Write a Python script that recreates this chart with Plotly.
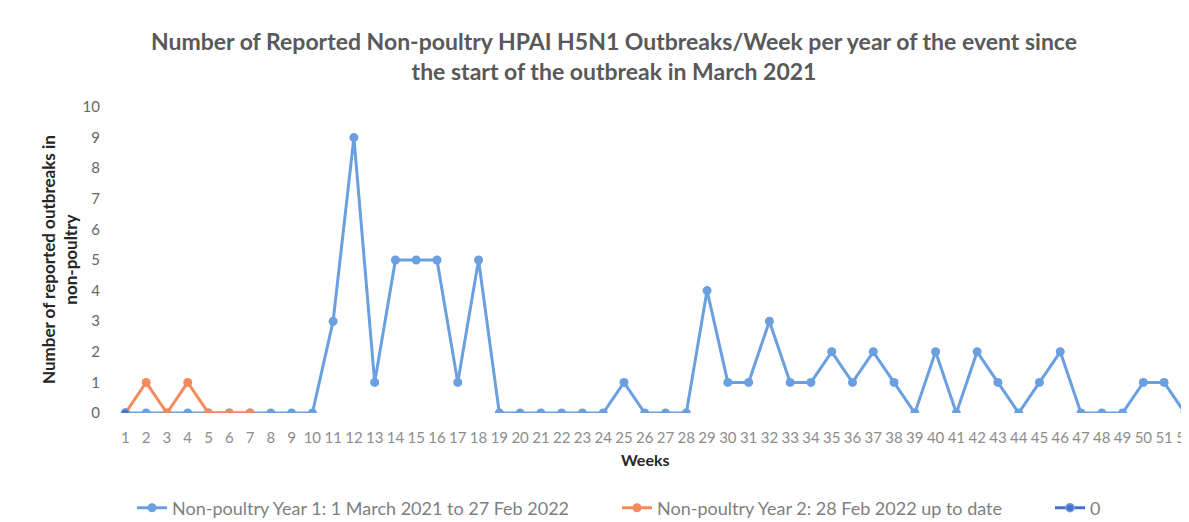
import plotly.graph_objects as go

weeks = list(range(1, 53))
year1 = [0, 0, 0, 0, 0, 0, 0, 0, 0, 0,
         3, 9, 1, 5, 5, 5, 1, 5, 0, 0,
         0, 0, 0, 0, 1, 0, 0, 0, 4, 1,
         1, 3, 1, 1, 2, 1, 2, 1, 0, 2,
         0, 2, 1, 0, 1, 2, 0, 0, 0, 1,
         1, 0]
weeks_y2 = [1, 2, 3, 4, 5, 6, 7]
year2 = [0, 1, 0, 1, 0, 0, 0]
weeks_zero = [1]
zero_series = [0]

name1 = "Non-poultry Year 1: 1 March 2021 to 27 Feb 2022"
name2 = "Non-poultry Year 2: 28 Feb 2022 up to date"
name3 = "0"

blue = "#6A9FE0"
orange = "#F58A5F"
dark = "#4A70C8"
font = "Lato, 'Open Sans', sans-serif"

W, H = 1189, 522
ml, mt, mb = 107, 99, 117
mr = 9
pw = W - ml - mr
ph = H - mt - mb

def px_x(x):
    return (x - ml) / pw

def px_y(y):
    return (H - mb - y) / ph

fig = go.Figure()
fig.add_trace(go.Scatter(x=weeks, y=year1, mode="lines+markers", name=name1, legend="legend",
                         line=dict(color=blue, width=3), marker=dict(color=blue, size=9)))
fig.add_trace(go.Scatter(x=weeks_y2, y=year2, mode="lines+markers", name=name2, legend="legend2",
                         line=dict(color=orange, width=3), marker=dict(color=orange, size=9)))
fig.add_trace(go.Scatter(x=weeks_zero, y=zero_series, mode="lines+markers", name=name3, legend="legend3",
                         line=dict(color=dark, width=3), marker=dict(color=dark, size=8,
                                                                     line=dict(color=blue, width=1.5))))

leg_common = dict(orientation="h", xanchor="left", yanchor="middle",
                  font=dict(family=font, size=18, color="#7F7F7F"), bgcolor="rgba(0,0,0,0)")

fig.update_layout(
    width=W, height=H,
    paper_bgcolor="white", plot_bgcolor="white",
    margin=dict(l=ml, r=mr, t=mt, b=mb, autoexpand=False),
    font=dict(family=font, color="#7F7F7F", size=15),
    title=dict(text="<b>Number of Reported Non-poultry HPAI H5N1 Outbreaks/Week per year of the event since<br>the start of the outbreak in March 2021</b>",
               x=606 / W, xanchor="center", y=1 - 42 / H, yanchor="middle",
               font=dict(family=font, size=23, color="#595959")),
    xaxis=dict(range=[0.5, 52.15], tickmode="array", tickvals=weeks, ticktext=[str(w) for w in weeks],
               showgrid=False, zeroline=False, showline=False, ticks="", tickangle=0,
               tickfont=dict(size=15, color="#8C8C8C"), ticklabelstandoff=14, automargin=False),
    yaxis=dict(range=[0, 10], tickvals=list(range(0, 11)), showgrid=False, zeroline=False,
               showline=False, ticks="", tickfont=dict(size=15, color="#666666"),
               ticklabelstandoff=14, automargin=False),
    legend=dict(x=px_x(124), y=px_y(500), **leg_common),
    legend2=dict(x=px_x(609), y=px_y(500), **leg_common),
    legend3=dict(x=px_x(1042), y=px_y(500), **leg_common),
    showlegend=True,
)
fig.add_annotation(text="<b>Number of reported outbreaks in<br>non-poultry</b>", textangle=-90,
                   xref="paper", yref="paper", x=px_x(51), y=0.5, xanchor="center", yanchor="middle",
                   showarrow=False, font=dict(family=font, size=17, color="#262626"))
fig.add_annotation(text="<b>Weeks</b>", xref="paper", yref="paper", x=px_x(637), y=px_y(452),
                   xanchor="center", yanchor="middle", showarrow=False,
                   font=dict(family=font, size=16, color="#262626"))
fig.write_html("out.html")
